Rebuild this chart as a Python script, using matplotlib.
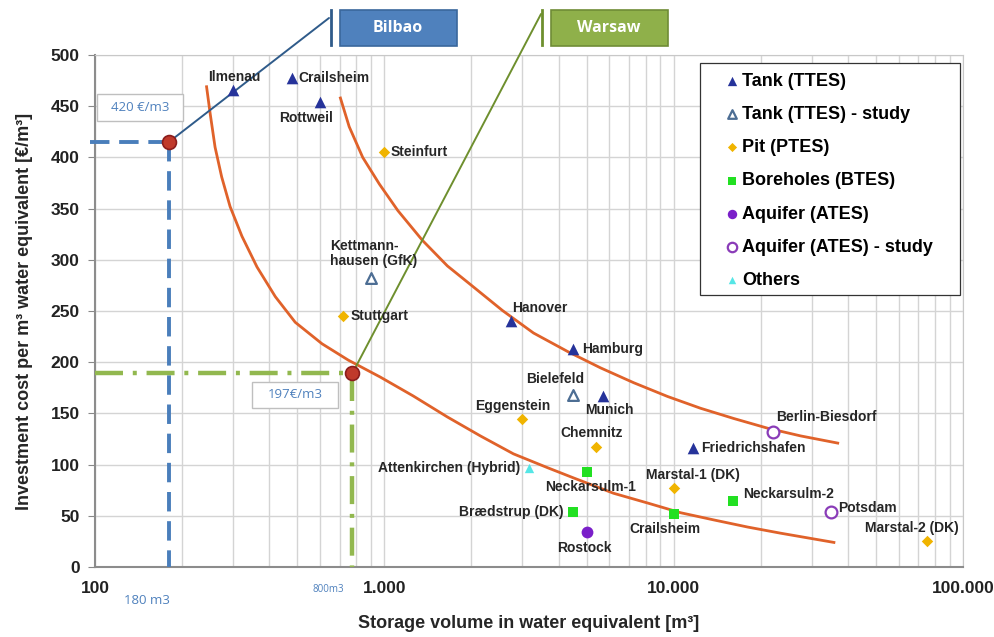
import matplotlib.pyplot as plt
from matplotlib.lines import Line2D
from matplotlib.patches import Rectangle
from matplotlib.ticker import FixedLocator, NullFormatter, LogLocator

plt.rcParams['font.family'] = ['Liberation Sans', 'DejaVu Sans']

# site data
sites = ['Ilmenau', 'Crailsheim', 'Rottweil', 'Hanover', 'Hamburg', 'Munich', 'Friedrichshafen',
         'Kettmann-\nhausen (GfK)', 'Bielefeld',
         'Steinfurt', 'Stuttgart', 'Eggenstein', 'Chemnitz', 'Marstal-1 (DK)', 'Marstal-2 (DK)',
         'Neckarsulm-1', 'Neckarsulm-2', 'Brædstrup (DK)', 'Crailsheim',
         'Rostock',
         'Berlin-Biesdorf', 'Potsdam',
         'Attenkirchen (Hybrid)']
volume = [300, 480, 600, 2750, 4500, 5700, 11700,
          900, 4500,
          1000, 720, 3000, 5400, 10000, 75000,
          5000, 16000, 4500, 10000,
          5000,
          22000, 35000,
          3150]
cost = [466, 478, 454, 240, 213, 167, 116,
        282, 168,
        405, 245, 145, 117, 77, 25,
        93, 64, 54, 52,
        34,
        132, 54,
        97]
category = ['Tank (TTES)'] * 7 + ['Tank (TTES) - study'] * 2 + ['Pit (PTES)'] * 6 + \
           ['Boreholes (BTES)'] * 4 + ['Aquifer (ATES)'] + ['Aquifer (ATES) - study'] * 2 + ['Others']
categories = ['Tank (TTES)', 'Tank (TTES) - study', 'Pit (PTES)', 'Boreholes (BTES)',
              'Aquifer (ATES)', 'Aquifer (ATES) - study', 'Others']

# cost trend curves
curve_low_x = [243, 250, 260, 274, 293, 322, 363, 420, 492, 609, 751, 968, 1259, 1652,
               2148, 2794, 3664, 4508, 6198, 8124, 10570, 13750, 18030, 23440, 35800]
curve_low_y = [469, 443, 410, 381, 352, 323, 293, 264, 239, 218, 202, 185.5, 167, 146.5,
               128, 110.5, 97, 87, 72, 62.5, 53, 46, 39, 33, 24]
curve_high_x = [705, 756, 842, 961, 1114, 1354, 1652, 2032, 2560, 3278, 4296, 5585, 7270,
                9530, 12390, 16140, 21150, 27480, 36900]
curve_high_y = [458, 430, 400, 374, 348, 319, 294, 273.5, 250.5, 228.5, 210.5, 194.5, 180,
                166.5, 155, 145, 135.5, 128, 121]

# city examples
bilbao = (180, 415)
warsaw = (775, 189)

styles = {
    'Tank (TTES)': dict(marker='^', c='#26339a', open=False, s=70),
    'Tank (TTES) - study': dict(marker='^', c='#4d6e94', open=True, s=60),
    'Pit (PTES)': dict(marker='D', c='#f0b400', open=False, s=34),
    'Boreholes (BTES)': dict(marker='s', c='#22e022', open=False, s=62),
    'Aquifer (ATES)': dict(marker='o', c='#7a1fc9', open=False, s=72),
    'Aquifer (ATES) - study': dict(marker='o', c='#8a3cb8', open=True, s=72),
    'Others': dict(marker='^', c='#55e6e6', open=False, s=45),
}

# label offsets in pixels (dx, dy up), horizontal alignment
label_pos = [(1, 13, 'center'), (6, 0, 'left'), (-14, -16, 'center'), (1, 13, 'left'),
             (9, 0, 'left'), (6, -14, 'center'), (8, 0, 'left'),
             (-41, 25, 'left'), (-18, 16, 'center'),
             (6, 0, 'left'), (8, 0, 'left'), (-10, 13, 'center'), (-5, 14, 'center'),
             (19, 13, 'center'), (-15, 13, 'center'),
             (4, -15, 'center'), (10, 7, 'left'), (-10, 0, 'right'), (-9, -15, 'center'),
             (-2, -16, 'center'),
             (3, 15, 'left'), (7, 4, 'left'),
             (-8, 0, 'right')]

fig = plt.figure(figsize=(9.95, 6.37), dpi=100)
ax = fig.add_axes([95 / 995, 1 - 567 / 637, 868 / 995, 512 / 637])
ax.set_xscale('log')
ax.set_xlim(100, 100000)
ax.set_ylim(0, 500)

ax.plot(curve_low_x, curve_low_y, color='#e0622a', lw=2, zorder=3, solid_joinstyle='round')
ax.plot(curve_high_x, curve_high_y, color='#e0622a', lw=2, zorder=3, solid_joinstyle='round')

handles = []
for cat in categories:
    st = styles[cat]
    xs = [v for v, k in zip(volume, category) if k == cat]
    ys = [v for v, k in zip(cost, category) if k == cat]
    if st['open']:
        h = ax.scatter(xs, ys, marker=st['marker'], s=st['s'], facecolors='white',
                       edgecolors=st['c'], linewidths=1.6, zorder=5, label=cat)
    else:
        h = ax.scatter(xs, ys, marker=st['marker'], s=st['s'], color=st['c'],
                       linewidths=0, zorder=5, label=cat)
    handles.append(h)

for name, x, y, (dx, dy, ha) in zip(sites, volume, cost, label_pos):
    ax.annotate(name, (x, y), xytext=(dx * 0.72, dy * 0.72), textcoords='offset points',
                ha=ha, va='center', fontsize=10, fontweight='bold', color='#262626',
                linespacing=1.1, zorder=6)

# Bilbao guide lines
ax.plot([96, bilbao[0]], [bilbao[1], bilbao[1]], color='#4a7ebb', lw=2.8,
        dashes=(5, 2.5), clip_on=False, zorder=4)
ax.plot([bilbao[0], bilbao[0]], [bilbao[1], 0], color='#4a7ebb', lw=2.8,
        dashes=(5, 2.5), zorder=4)
# Warsaw guide lines
ax.plot([100, warsaw[0]], [warsaw[1], warsaw[1]], color='#92b84f', lw=3.2,
        dashes=(6.3, 2.2, 0.9, 2.2), zorder=4)
ax.plot([warsaw[0], warsaw[0]], [warsaw[1], 0], color='#92b84f', lw=3.2,
        dashes=(6.3, 2.2, 0.9, 2.2), zorder=4)

for pt in (bilbao, warsaw):
    ax.plot(*pt, marker='o', ms=10, mfc='#c0392b', mec='#8b1c1c', mew=1.2, zorder=7)

# callout lines to the city boxes
ax.annotate('', xy=bilbao, xycoords='data', xytext=(329 / 995, 1 - 18 / 637),
            textcoords='figure fraction',
            arrowprops=dict(arrowstyle='-', color='#2f5b8a', lw=1.4, shrinkA=0, shrinkB=5))
ax.annotate('', xy=warsaw, xycoords='data', xytext=(541 / 995, 1 - 14 / 637),
            textcoords='figure fraction',
            arrowprops=dict(arrowstyle='-', color='#6e8f2e', lw=1.4, shrinkA=0, shrinkB=5))
for xb, col in ((331, '#2f5b8a'), (542, '#6e8f2e')):
    fig.add_artist(Line2D([xb / 995] * 2, [1 - 10 / 637, 1 - 45 / 637],
                          transform=fig.transFigure, color=col, lw=2))
for x0, txt, fc, ec in ((340, 'Bilbao', '#4f81bd', '#3a679c'), (551, 'Warsaw', '#8fb04a', '#6f8c36')):
    fig.add_artist(Rectangle((x0 / 995, 1 - 46 / 637), 117 / 995, 36 / 637,
                             transform=fig.transFigure, facecolor=fc, edgecolor=ec, lw=1.2))
    fig.text((x0 + 58) / 995, 1 - 28 / 637, txt, ha='center', va='center', color='white',
             fontsize=11.5, fontweight='bold', family=['Open Sans', 'DejaVu Sans'])

# value boxes
for (bx0, by0, bw, bh), txt in (((97, 94, 86, 27), '420 €/m3'), ((252, 382, 86, 26), '197€/m3')):
    fig.add_artist(Rectangle((bx0 / 995, 1 - (by0 + bh) / 637), bw / 995, bh / 637,
                             transform=fig.transFigure, facecolor='white', edgecolor='#bfbfbf',
                             lw=1, zorder=9))
    fig.text((bx0 + bw / 2) / 995, 1 - (by0 + bh / 2) / 637, txt, ha='center', va='center',
             color='#4f81bd', fontsize=9.5, family=['Open Sans', 'DejaVu Sans'], zorder=10)
fig.text(147 / 995, 1 - 600 / 637, '180 m3', ha='center', va='center', color='#4f81bd',
         fontsize=9.5, family=['Open Sans', 'DejaVu Sans'])
fig.text(328 / 995, 1 - 589 / 637, '800m3', ha='center', va='center', color='#4f81bd',
         fontsize=7, family=['Open Sans', 'DejaVu Sans'])

# axes styling
ax.xaxis.set_major_locator(FixedLocator([100, 1000, 10000, 100000]))
ax.xaxis.set_minor_locator(LogLocator(base=10, subs=range(2, 10)))
ax.xaxis.set_minor_formatter(NullFormatter())
ax.set_xticklabels(['100', '1.000', '10.000', '100.000'])
ax.set_yticks(range(0, 501, 50))
ax.grid(True, which='both', color='#d4d4d4', lw=1)
ax.set_axisbelow(True)
ax.tick_params(axis='x', which='both', length=0, pad=10, labelsize=12.5, labelcolor='#222222')
ax.tick_params(axis='y', length=5, color='#888888', pad=6, labelsize=12.5, labelcolor='#222222')
for t in ax.get_xticklabels() + ax.get_yticklabels():
    t.set_fontweight('bold')
for s in ('left', 'bottom'):
    ax.spines[s].set_color('#8c8c8c')
    ax.spines[s].set_linewidth(1.5)
for s in ('top', 'right'):
    ax.spines[s].set_color('#c8c8c8')

ax.set_xlabel('Storage volume in water equivalent [m³]', fontsize=13, fontweight='bold',
              color='#262626', labelpad=14)
ax.set_ylabel('Investment cost per m³ water equivalent [€/m³]', fontsize=13, fontweight='bold',
              color='#262626', labelpad=13)

# legend: frame drawn separately so the entries can sit like in the original
ax.add_patch(Rectangle((0.697, 0.531), 0.2995, 0.453, transform=ax.transAxes,
                       facecolor='white', edgecolor='#333333', lw=0.9, zorder=8))
leg = ax.legend(handles=handles, loc='upper left', bbox_to_anchor=(0.7277, 0.965),
                prop=dict(weight='bold', size=13), markerscale=0.8,
                handlelength=0.6, handletextpad=0.26, labelspacing=0.895, borderpad=0,
                frameon=False, borderaxespad=0)
leg.set_zorder(9)

fig.savefig('out.png', dpi=100)
